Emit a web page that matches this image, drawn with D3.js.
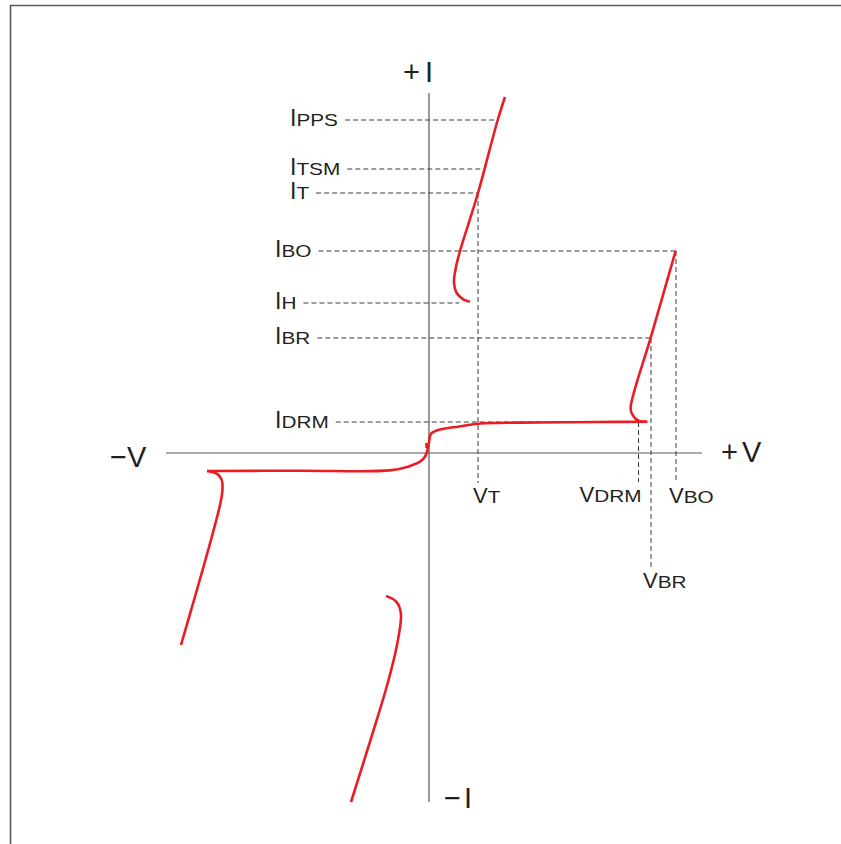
<!DOCTYPE html>
<html>
<head>
<meta charset="utf-8">
<style>
  body { margin: 0; background: #fff; }
  svg { display: block; }
  .lbl { font-family: "Liberation Sans", Arial, sans-serif; fill: #231f20; }
  .ref { stroke: #3a3a3a; stroke-width: 1; stroke-dasharray: 5,3; fill: none; }
  .curve { stroke: #ec1c24; stroke-width: 2.6; fill: none; stroke-linejoin: round; }
</style>
</head>
<body>
<div id="chart"></div>
<script src="https://d3js.org/d3.v7.min.js"></script>
<script>
// V-I characteristic, arbitrary units (V across, I up)
var levelNames = ["PPS", "TSM", "T", "BO", "H", "BR", "DRM"];
var levelValues = [33.3, 28.4, 26.0, 20.2, 15.0, 11.5, 3.1];
var levelReach = [6.9, 5.2, 4.9, 24.7, 3.0, 22.2, 20.95];

var voltNames = ["T", "DRM", "BO", "BR"];
var voltValues = [4.9, 20.95, 24.7, 22.2];
var voltFrom = [26.0, 3.1, 20.2, 11.5];
var voltTo = [-3.0, -2.9, -3.0, -11.5];

var vExtent = [-26.3, 27.3];
var iExtent = [-34.9, 36.0];

// curve points [V, I]
var onState = [[7.6, 35.6], [6.87, 33.3], [4.9, 26.0], [3.1, 20.2], [2.7, 18.6],
  [2.5, 17.1], [2.77, 16.0], [3.43, 15.37], [4.1, 15.13]];
var blocking = [[-22.2, -1.8], [-12.9, -1.77], [-3.9, -1.74], [-2.1, -1.37], [-0.9, -0.87],
  [-0.4, -0.37], [-0.15, 0.3], [0.02, 1.2], [0.1, 1.7], [0.27, 2.0], [0.77, 2.25],
  [1.77, 2.47], [2.9, 2.63], [4.9, 2.93], [9.1, 3.04], [17.1, 3.1], [21.83, 3.12]];
var breakover = [[21.83, 3.13], [20.93, 3.23], [20.27, 3.97], [20.17, 4.63],
  [22.17, 11.53], [24.67, 20.23]];
var reverseBreak = [[-22.2, -1.8], [-21.5, -1.95], [-21.0, -2.25], [-20.7, -2.8],
  [-20.65, -3.6], [-20.9, -5.2], [-24.8, -19.2]];
var reverseOn = [[-4.3, -14.3], [-3.6, -14.6], [-3.1, -15.1], [-2.85, -15.8], [-2.8, -16.5],
  [-3.2, -19.2], [-4.1, -22.9], [-5.6, -27.9], [-7.8, -34.9]];
var notch = [[-0.27, 1.0], [-0.23, 0.5]];

var width = 841, height = 844;
var labelX = [290, 290, 290, 275, 275, 275, 275];
var voltLabelDx = [-5, -59, -7, -8];

var x = d3.scaleLinear().domain([-30, 30]).range([129, 729]);
var y = d3.scaleLinear().domain([-40, 40]).range([853, 53]);

var svg = d3.select("#chart").append("svg")
  .attr("width", width).attr("height", height);

// frame (only top and left edge are visible)
svg.append("path")
  .attr("d", "M10.5," + height + "V5.5H" + width)
  .attr("fill", "none").attr("stroke", "#595959").attr("stroke-width", 1.6);

// axes
svg.append("line")
  .attr("x1", x(vExtent[0])).attr("x2", x(vExtent[1]))
  .attr("y1", y(0)).attr("y2", y(0))
  .attr("stroke", "#555").attr("stroke-width", 1.2);
svg.append("line")
  .attr("x1", x(0)).attr("x2", x(0))
  .attr("y1", y(iExtent[0])).attr("y2", y(iExtent[1]))
  .attr("stroke", "#555").attr("stroke-width", 1.2);

// subscript-style label: big letter + wide small caps
function subLabel(g, big, small, bigSize) {
  var t = g.append("text").attr("class", "lbl").attr("font-size", bigSize).text(big);
  var w = t.node().getComputedTextLength();
  var s = g.append("text").attr("class", "lbl").attr("font-size", 16)
    .attr("transform", "translate(" + w + ",0) scale(1.3,1)").text(small);
  return w + s.node().getComputedTextLength() * 1.3;
}

// current levels
levelNames.forEach(function(n, i) {
  var yy = y(levelValues[i]);
  var g = svg.append("g").attr("transform", "translate(" + labelX[i] + "," + (yy + 6) + ")");
  var w = subLabel(g, "I", n, 23);
  svg.append("line").attr("class", "ref")
    .attr("x1", labelX[i] + w + 7).attr("x2", x(levelReach[i]))
    .attr("y1", yy).attr("y2", yy);
});

// voltage markers
voltNames.forEach(function(n, i) {
  var xx = x(voltValues[i]);
  svg.append("line").attr("class", "ref")
    .attr("x1", xx).attr("x2", xx)
    .attr("y1", y(voltFrom[i])).attr("y2", y(voltTo[i]));
  var g = svg.append("g")
    .attr("transform", "translate(" + (xx + voltLabelDx[i]) + "," + (y(voltTo[i]) + 20) + ")");
  subLabel(g, "V", n, 22);
});

// curves
var line = d3.line()
  .x(function(d) { return x(d[0]); })
  .y(function(d) { return y(d[1]); })
  .curve(d3.curveCatmullRom.alpha(0.5));

[onState, blocking, breakover, reverseBreak, reverseOn, notch].forEach(function(c) {
  svg.append("path").attr("class", "curve").attr("d", line(c));
});

// axis labels
var ax = svg.append("g").attr("class", "lbl").attr("font-size", 29);
var pI = ax.append("text").attr("x", 403).attr("y", 82);
pI.append("tspan").text("+");
pI.append("tspan").attr("dx", 5).text("I");
var mI = ax.append("text").attr("x", 444).attr("y", 808);
mI.append("tspan").text("\u2212");
mI.append("tspan").attr("dx", 3).text("I");
var pV = ax.append("text").attr("x", 721).attr("y", 462);
pV.append("tspan").text("+");
pV.append("tspan").attr("dx", 4).text("V");
ax.append("text").attr("x", 110).attr("y", 467).text("\u2212V");
</script>
</body>
</html>
